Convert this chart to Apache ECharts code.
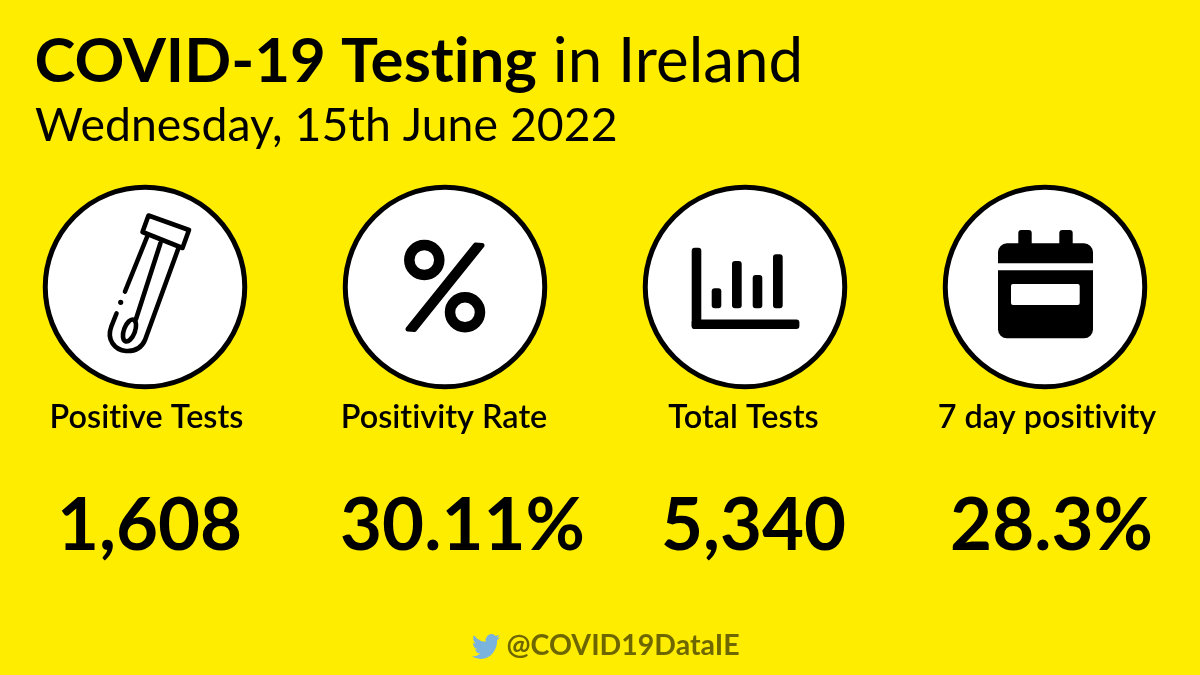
<!DOCTYPE html>
<html><head><meta charset="utf-8">
<style>html,body{margin:0;padding:0;background:#FFED00}#c{width:1200px;height:675px}</style>
<script src="https://cdn.jsdelivr.net/npm/echarts@6/dist/echarts.min.js"></script>
</head><body><div id="c"></div>
<script>
const categories = ['Positive Tests', 'Positivity Rate', 'Total Tests', '7 day positivity'];
const valueLabels = ['1,608', '30.11%', '5,340', '28.3%'];
const titleBold = 'COVID-19 Testing';
const titleRest = ' in Ireland';
const subtitle = 'Wednesday, 15th June 2022';
const handle = '@COVID19DataIE';

const FONT = 'Lato';
const ROW_CIRCLE = 287, ROW_LABEL = 418, ROW_VALUE = 526.5;
const labelNudge = [1.5, -1, -1.5, 2];
const valueNudge = [4.5, 17.5, 8.5, 6.5];

// non-zero tracking switches off the font's "ti" ligature, which the reference does not use
['fillText','strokeText','measureText'].forEach(fn=>{
  const orig = CanvasRenderingContext2D.prototype[fn];
  CanvasRenderingContext2D.prototype[fn] = function(){ this.letterSpacing='0.01px'; return orig.apply(this, arguments); };
});

const K = '#000';
const LW = 4.6;
function line(points){ return {type:'polyline', shape:{points}, style:{fill:null, stroke:K, lineWidth:LW, lineCap:'round', lineJoin:'round'}, z:10}; }
function bar(x,y,w,h,r){ return {type:'rect', shape:{x,y,width:w,height:h,r:r||3}, style:{fill:K}, z:10}; }

const TUBE_PATH = 'M116.5 313.5 L111.5 326 C106 340 115 350 126 351 C135 351.5 141.5 348 145 340 L178.5 248';
const BIRD_PATH = 'M23.953 4.57a10 10 0 0 1-2.825.775 4.958 4.958 0 0 0 2.163-2.723c-.951.555-2.005.959-3.127 1.184a4.92 4.92 0 0 0-8.384 4.482C7.69 8.095 4.067 6.13 1.64 3.162a4.822 4.822 0 0 0-.666 2.475c0 1.71.87 3.213 2.188 4.096a4.904 4.904 0 0 1-2.228-.616v.06a4.923 4.923 0 0 0 3.946 4.827 4.996 4.996 0 0 1-2.212.085 4.936 4.936 0 0 0 4.604 3.417 9.867 9.867 0 0 1-6.102 2.105c-.39 0-.779-.023-1.17-.067a13.995 13.995 0 0 0 7.557 2.209c9.053 0 13.998-7.496 13.998-13.985 0-.21 0-.42-.015-.63A9.935 9.935 0 0 0 24 4.59z';

const icons = [
  {type:'polygon', shape:{points:[[148.5,215.5],[189,230],[182.5,248],[142.5,232]]}, style:{fill:'#fff',stroke:K,lineWidth:LW,lineJoin:'round'}, z:10},
  line([[147,237],[125,291.5]]),
  {type:'circle', shape:{cx:120.7,cy:302.3,r:2.6}, style:{fill:K}, z:10},
  line([[160.5,243],[136,319]]),
  {type:'ellipse', shape:{cx:0,cy:0,rx:5.5,ry:11.5}, x:129.5, y:330.5, rotation:-0.36, style:{fill:'#fff',stroke:K,lineWidth:LW}, z:10},
  {type:'circle', shape:{cx:424.3,cy:260,r:15}, style:{fill:null,stroke:K,lineWidth:10.5}, z:10},
  {type:'circle', shape:{cx:465,cy:312.3,r:15}, style:{fill:null,stroke:K,lineWidth:10.5}, z:10},
  {type:'polygon', shape:{points:[[475.5,245],[482,245.5],[414.5,329.5],[408,329]]}, style:{fill:K,stroke:K,lineWidth:5,lineJoin:'round'}, z:10},
  bar(691.7,247.7,9.6,81.3,3),
  bar(691.7,319.5,107.7,9.5,3),
  bar(711.7,288.3,9.6,20,3),
  bar(732,261,9.7,47.3,3),
  bar(752.7,275,9.6,33.3,3),
  bar(773,254.3,9.7,54,3),
  {type:'rect', shape:{x:1018.3,y:230,width:13.4,height:20,r:[3,3,0,0]}, style:{fill:K}, z:10},
  {type:'rect', shape:{x:1059.3,y:230,width:13.4,height:20,r:[3,3,0,0]}, style:{fill:K}, z:10},
  {type:'rect', shape:{x:998,y:243.3,width:95,height:20,r:[9,9,0,0]}, style:{fill:K}, z:10},
  {type:'rect', shape:{x:998,y:270.3,width:95,height:68,r:[0,0,9,9]}, style:{fill:K}, z:10},
  {type:'rect', shape:{x:1011,y:284,width:68.7,height:21,r:2}, style:{fill:'#fff'}, z:11},
  {type:'text', x:34.5, y:62, style:{text:'{b|'+titleBold+'}{r|'+titleRest+'}', verticalAlign:'middle', rich:{b:{fontFamily:FONT,fontWeight:700,fontSize:61.8,fill:K},r:{fontFamily:FONT,fontWeight:400,fontSize:61.8,fill:K}}}, z:10},
  {type:'text', x:35, y:126, style:{text:subtitle, font:'400 46.4px '+FONT, fill:K, verticalAlign:'middle'}, z:10},
  {type:'text', x:506.5, y:646, style:{text:handle, font:'700 28.5px '+FONT, fill:'#6E6700', verticalAlign:'middle'}, z:10}
];

function textRow(name, y, labelOf, font){
  return {
    name, type:'scatter', symbolSize:0, silent:true, z:5,
    itemStyle:{opacity:1},
    data: categories.map((c,i)=>({value:[c,y], label:{formatter:labelOf(i), offset:[(font.nudge)[i],0]}})),
    label:{show:true, position:'inside', color:K, fontFamily:font.family, fontWeight:font.weight, fontSize:font.size}
  };
}

const chart = echarts.init(document.getElementById('c'), null, {renderer:'canvas'});
chart.setOption({
  animation:false,
  backgroundColor:'#FFED00',
  tooltip:{show:false},
  grid:{left:-5, right:5, top:0, bottom:0, containLabel:false, outerBoundsMode:'none'},
  xAxis:{type:'category', data:categories, show:false},
  yAxis:{type:'value', min:0, max:675, inverse:true, show:false},
  series:[
    {name:'icons', type:'scatter', symbol:'circle', symbolSize:199.5, silent:true, z:2,
     itemStyle:{color:'#fff', borderColor:K, borderWidth:5, opacity:1},
     data:categories.map(c=>[c,ROW_CIRCLE])},
    textRow('labels', ROW_LABEL, i=>categories[i], {nudge:labelNudge, weight:600, size:32.4, family:'"Lato Semibold","Lato Medium",Lato'}),
    textRow('values', ROW_VALUE, i=>valueLabels[i], {nudge:valueNudge, weight:700, size:72.5, family:FONT}),
    {name:'paths', type:'custom', silent:true, z:8, clip:false, coordinateSystem:'cartesian2d',
     data:[[categories[0],0]],
     renderItem:()=>({type:'group', children:[
       {type:'path', shape:{pathData:TUBE_PATH}, style:{fill:null,stroke:K,lineWidth:LW,lineCap:'round',lineJoin:'round'}},
       {type:'path', shape:{pathData:BIRD_PATH,x:472,y:634,width:28,height:25,layout:'cover'}, style:{fill:'#7AB3DD'}}
     ]})}
  ],
  graphic:{elements:icons}
});
</script></body></html>
